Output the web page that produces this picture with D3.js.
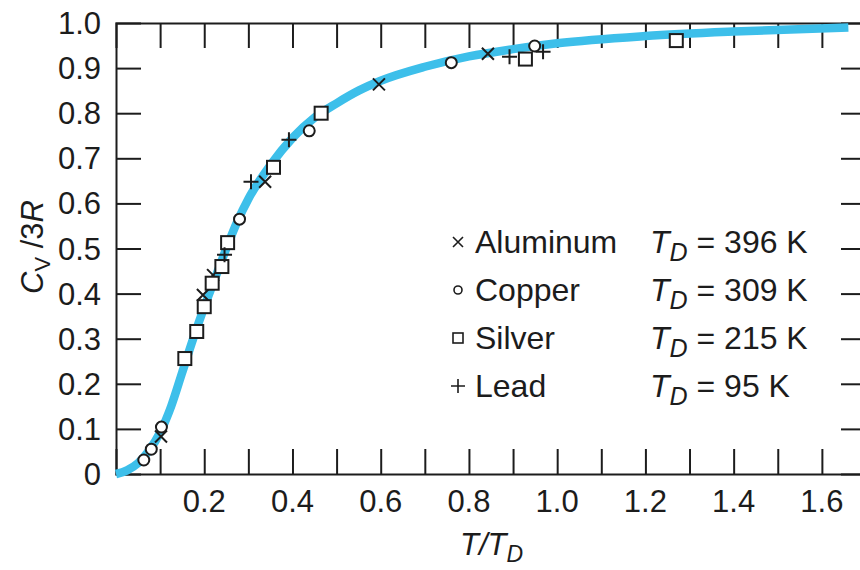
<!DOCTYPE html>
<html>
<head>
<meta charset="utf-8">
<script src="https://cdn.jsdelivr.net/npm/d3@7"></script>
<style>
  body { margin: 0; background: #fff; }
  svg { display: block; }
</style>
</head>
<body>
<svg id="chart" width="860" height="570"></svg>
<script>
const svg = d3.select("#chart");
const margin = {top: 23, left: 116, bottom: 96};
const plotW = 750;
const plotH = +svg.attr("height") - margin.top - margin.bottom;

const fontFamily = "'Liberation Sans', Arial, Helvetica, sans-serif";
const ink = "#1c1c1c";

// Debye curve
const curveX = [0, 0.025, 0.05, 0.075, 0.1, 0.125, 0.15, 0.175, 0.2, 0.225, 0.25, 0.275, 0.3, 0.35, 0.4, 0.45, 0.5, 0.55, 0.6, 0.7, 0.8, 0.9, 1.0, 1.2, 1.4, 1.66];
const curveY = [0, 0.008, 0.024, 0.052, 0.092, 0.15, 0.225, 0.3, 0.37, 0.435, 0.5, 0.56, 0.61, 0.685, 0.745, 0.79, 0.822, 0.85, 0.872, 0.903, 0.926, 0.942, 0.955, 0.971, 0.981, 0.99];

// measured points
const aluminumX = [0.102, 0.197, 0.22, 0.338, 0.596, 0.843];
const aluminumY = [0.083, 0.397, 0.441, 0.648, 0.864, 0.932];
const copperX = [0.063, 0.08, 0.103, 0.28, 0.438, 0.76, 0.949];
const copperY = [0.031, 0.055, 0.104, 0.565, 0.761, 0.912, 0.949];
const silverX = [0.156, 0.183, 0.2, 0.218, 0.24, 0.253, 0.357, 0.465, 0.928, 1.27];
const silverY = [0.256, 0.316, 0.371, 0.423, 0.46, 0.513, 0.68, 0.80, 0.92, 0.961];
const leadX = [0.246, 0.306, 0.392, 0.892, 0.968];
const leadY = [0.486, 0.648, 0.741, 0.925, 0.936];

const metals = ["Aluminum", "Copper", "Silver", "Lead"];
const debyeT = ["396", "309", "215", "95"];
const symbols = ["cross", "circle", "square", "plus"];

const xTicks = d3.range(1, 17).map(d => d / 10);
const xLabels = [0.2, 0.4, 0.6, 0.8, 1.0, 1.2, 1.4, 1.6];
const yTicks = d3.range(0, 11).map(d => d / 10);

const x = d3.scaleLinear().domain([0, 1.7]).range([margin.left, margin.left + plotW]);
const y = d3.scaleLinear().domain([0, 1]).range([margin.top + plotH, margin.top]);

svg.attr("font-family", fontFamily);

// inward ticks on all four sides
const tickLen = 25;
svg.append("g")
  .attr("transform", `translate(0,${y(0)})`)
  .call(d3.axisBottom(x).tickValues(xTicks).tickSize(-tickLen).tickFormat(""));
svg.append("g")
  .attr("transform", `translate(0,${y(1)})`)
  .call(d3.axisTop(x).tickValues(xTicks).tickSize(-tickLen).tickFormat(""));
svg.append("g")
  .attr("transform", `translate(${x(0)},0)`)
  .call(d3.axisLeft(y).tickValues(yTicks.slice(1, 10)).tickSize(-tickLen).tickFormat(""));
svg.append("g")
  .attr("transform", `translate(${x(1.7)},0)`)
  .call(d3.axisRight(y).tickValues(yTicks.slice(1, 10)).tickSize(-tickLen).tickFormat(""));

svg.selectAll(".domain, .tick line")
  .attr("stroke", ink)
  .attr("stroke-width", 2);

// tick labels
svg.append("g").selectAll("text")
  .data(xLabels)
  .join("text")
  .attr("x", d => x(d))
  .attr("y", y(0) + 38)
  .attr("text-anchor", "middle")
  .attr("font-size", 31)
  .attr("fill", ink)
  .text(d => d.toFixed(1));

svg.append("g").selectAll("text")
  .data(yTicks)
  .join("text")
  .attr("x", x(0) - 15)
  .attr("y", d => y(d) + 11)
  .attr("text-anchor", "end")
  .attr("font-size", 31)
  .attr("fill", ink)
  .text(d => d === 0 ? "0" : d.toFixed(1));

// axis titles
const xt = svg.append("text")
  .attr("x", 460)
  .attr("y", 555)
  .attr("font-size", 31)
  .attr("font-style", "italic")
  .attr("fill", ink);
xt.append("tspan").text("T/T");
xt.append("tspan").attr("font-size", 23).attr("dy", 7).text("D");

const yt = svg.append("text")
  .attr("transform", `translate(43,${294}) rotate(-90)`)
  .attr("font-size", 31)
  .attr("fill", ink);
yt.append("tspan").attr("font-style", "italic").text("C");
yt.append("tspan").attr("font-size", 22).attr("dy", 7).text("V");
yt.append("tspan").attr("dy", -7).text(" /3");
yt.append("tspan").attr("font-style", "italic").text("R");

// Debye curve
const curveData = curveX.map((d, i) => [d, curveY[i]]);
svg.append("path")
  .datum(curveData)
  .attr("fill", "none")
  .attr("stroke", "#3dbfea")
  .attr("stroke-width", 8.5)
  .attr("d", d3.line().x(d => x(d[0])).y(d => y(d[1])).curve(d3.curveMonotoneX));

// marker drawing
function marker(g, type, s) {
  if (type === "cross") {
    g.append("path").attr("d", `M${-s},${-s}L${s},${s}M${-s},${s}L${s},${-s}`);
  } else if (type === "circle") {
    g.append("circle").attr("r", s);
  } else if (type === "square") {
    g.append("rect").attr("x", -s).attr("y", -s).attr("width", 2 * s).attr("height", 2 * s);
  } else {
    g.append("path").attr("d", `M${-s},0L${s},0M0,${-s}L0,${s}`);
  }
}

const series = [
  {name: "Aluminum", xs: aluminumX, ys: aluminumY, sym: "cross", size: 6},
  {name: "Copper", xs: copperX, ys: copperY, sym: "circle", size: 5.5},
  {name: "Silver", xs: silverX, ys: silverY, sym: "square", size: 6.5},
  {name: "Lead", xs: leadX, ys: leadY, sym: "plus", size: 7.5}
];

const pts = svg.append("g")
  .attr("fill", "#fff")
  .attr("stroke", ink)
  .attr("stroke-width", 2);

series.forEach(s => {
  s.xs.forEach((v, i) => {
    const g = pts.append("g").attr("transform", `translate(${x(v)},${y(s.ys[i])})`);
    marker(g, s.sym, s.size);
  });
});

// legend
const legSizes = [5, 4, 5, 7];
const leg = svg.append("g").attr("fill", ink);
metals.forEach((m, i) => {
  const yy = 253 + i * 48;
  const g = leg.append("g")
    .attr("transform", `translate(458,${yy - 11})`)
    .attr("fill", "#fff")
    .attr("stroke", ink)
    .attr("stroke-width", 1.6);
  marker(g, symbols[i], legSizes[i]);
  leg.append("text").attr("x", 475).attr("y", yy).attr("font-size", 32).text(m);
  const t = leg.append("text").attr("x", 650).attr("y", yy).attr("font-size", 32);
  t.append("tspan").attr("font-style", "italic").text("T");
  t.append("tspan").attr("font-style", "italic").attr("font-size", 25).attr("dy", 8).text("D");
  t.append("tspan").attr("dy", -8).text(" = " + debyeT[i] + " K");
});
</script>
</body>
</html>
